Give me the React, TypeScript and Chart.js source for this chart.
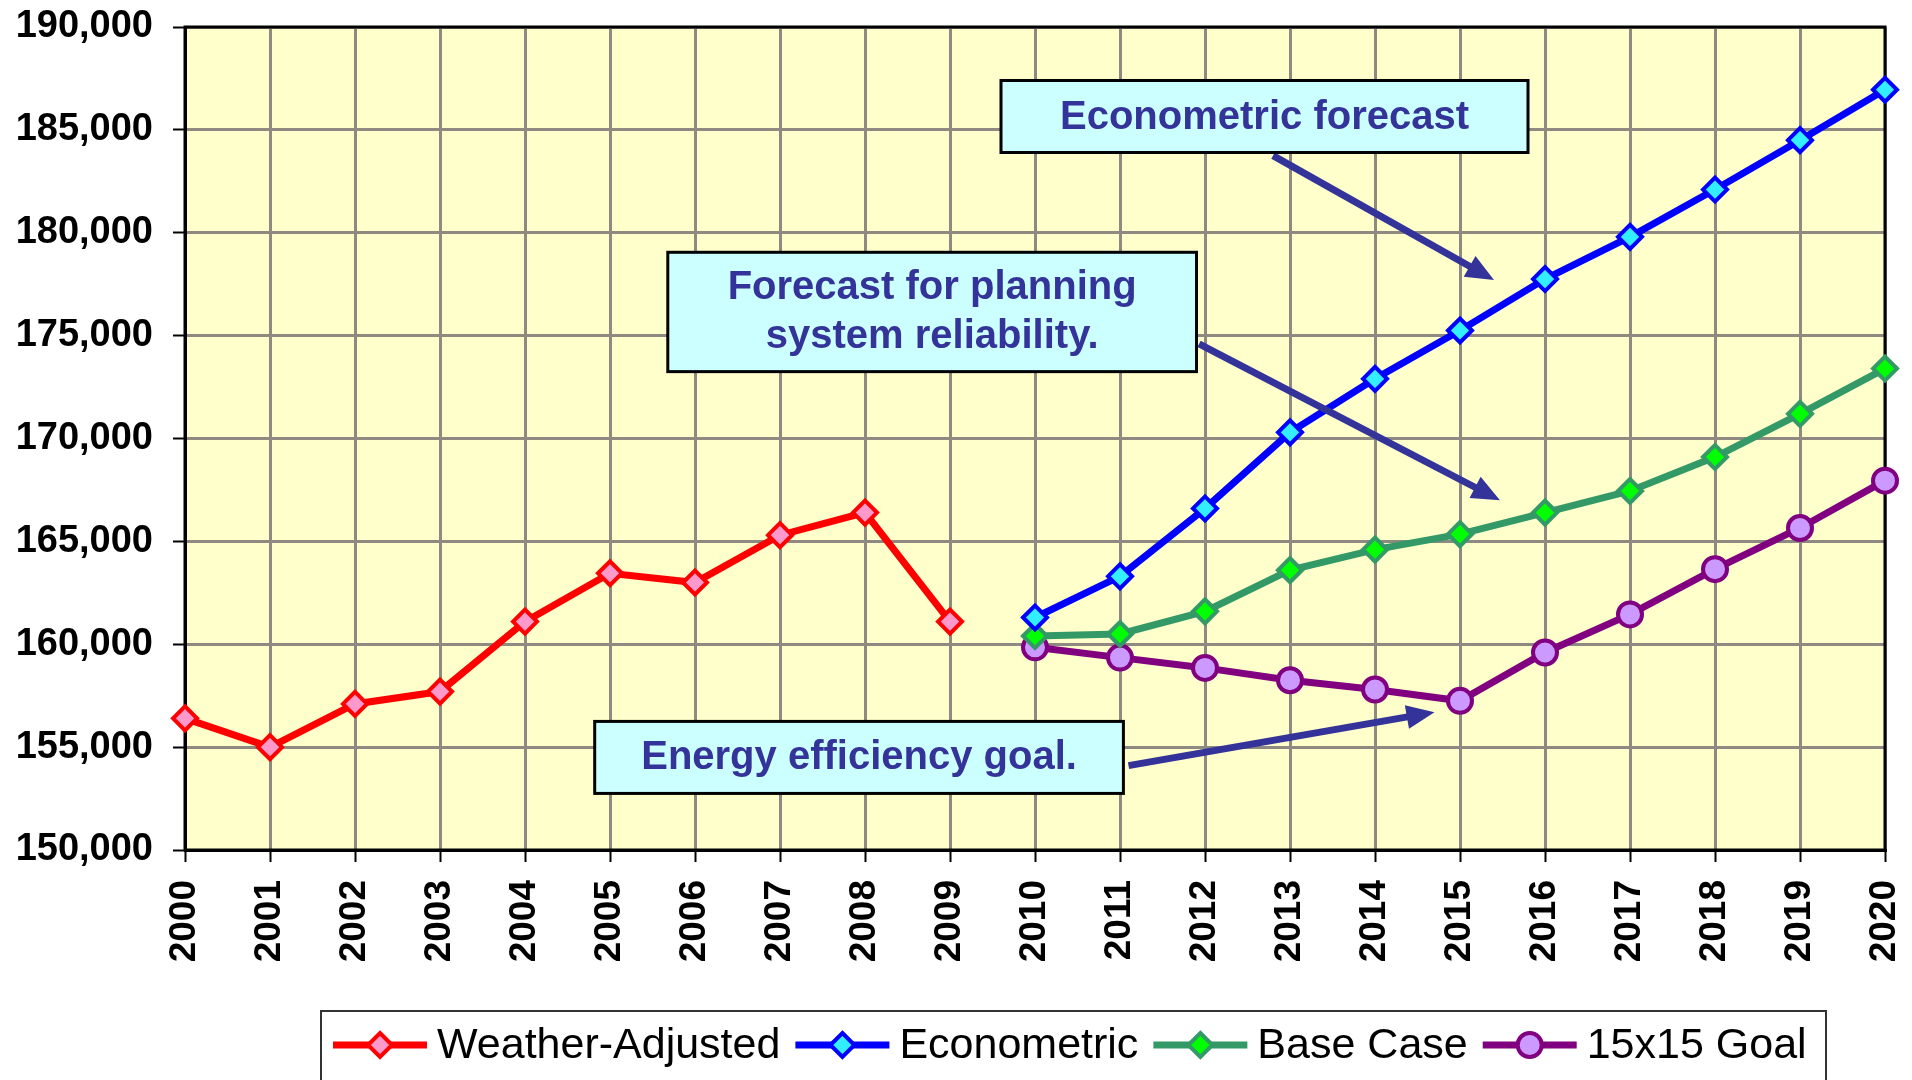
import React, { useEffect, useRef } from "react";
import { Chart, registerables } from "chart.js";

Chart.register(...registerables);

// ---------- data ----------
const years = [
  "2000", "2001", "2002", "2003", "2004", "2005", "2006", "2007", "2008", "2009", "2010",
  "2011", "2012", "2013", "2014", "2015", "2016", "2017", "2018", "2019", "2020",
];
// 2000–2009
const weatherAdjusted = [156400, 155000, 157100, 157700, 161100, 163450, 163000, 165300, 166400, 161100];
// 2010–2020
const econometric = [161300, 163300, 166600, 170300, 172900, 175250, 177750, 179800, 182100, 184500, 186950];
const baseCase = [160400, 160500, 161600, 163600, 164600, 165350, 166400, 167450, 169100, 171200, 173400];
const goal15x15 = [159850, 159350, 158850, 158250, 157800, 157250, 159600, 161450, 163650, 165650, 167950];

const yMin = 150000;
const yMax = 190000;
const yStep = 5000;

const seriesNames = ["Weather-Adjusted", "Econometric", "Base Case", "15x15 Goal"];

// callouts, positioned in chart units (x = year index, y = value)
const calloutBoxes = [
  { lines: ["Econometric forecast"], x0: 9.6, x1: 15.8, yTop: 187400, yBottom: 183900 },
  { lines: ["Forecast for planning", "system reliability."], x0: 5.68, x1: 11.9, yTop: 179050, yBottom: 173250 },
  { lines: ["Energy efficiency goal."], x0: 4.82, x1: 11.04, yTop: 156250, yBottom: 152750 },
];
const calloutArrows = [
  { fx: 12.8, fy: 183750, tx: 15.4, ty: 177700 },
  { fx: 11.93, fy: 174600, tx: 15.47, ty: 167000 },
  { fx: 11.1, fy: 154100, tx: 14.7, ty: 156700 },
];

const FONT = "'Liberation Sans', Arial, sans-serif";

const pad = (n: number) => Array.from({ length: n }, () => null as number | null);

export default function App() {
  const ref = useRef<HTMLCanvasElement | null>(null);

  useEffect(() => {
    document.body.style.margin = "0";
    const canvas = ref.current;
    if (!canvas) return;

    const bgPlugin = {
      id: "plotBg",
      beforeDraw(chart: any) {
        const { ctx, chartArea: a } = chart;
        ctx.save();
        ctx.fillStyle = "#FFFFCC";
        ctx.fillRect(a.left, a.top, a.right - a.left, a.bottom - a.top);
        ctx.restore();
      },
      beforeDatasetsDraw(chart: any) {
        const { ctx, chartArea: a } = chart;
        ctx.save();
        ctx.strokeStyle = "#000";
        ctx.lineWidth = 3;
        ctx.strokeRect(a.left, a.top, a.right - a.left, a.bottom - a.top);
        ctx.restore();
      },
    };

    const calloutPlugin = {
      id: "callouts",
      afterDatasetsDraw(chart: any) {
        const { ctx } = chart;
        const xs = chart.scales.x;
        const ys = chart.scales.y;
        ctx.save();
        ctx.strokeStyle = "#333399";
        ctx.fillStyle = "#333399";
        for (const a of calloutArrows) {
          const x1 = xs.getPixelForValue(a.fx);
          const y1 = ys.getPixelForValue(a.fy);
          const x2 = xs.getPixelForValue(a.tx);
          const y2 = ys.getPixelForValue(a.ty);
          const ang = Math.atan2(y2 - y1, x2 - x1);
          const headLen = 28;
          const headHalf = 12;
          const bx = x2 - headLen * Math.cos(ang);
          const by = y2 - headLen * Math.sin(ang);
          ctx.lineWidth = 7;
          ctx.lineCap = "butt";
          ctx.beginPath();
          ctx.moveTo(x1, y1);
          ctx.lineTo(bx + 2 * Math.cos(ang), by + 2 * Math.sin(ang));
          ctx.stroke();
          ctx.beginPath();
          ctx.moveTo(x2, y2);
          ctx.lineTo(bx + headHalf * Math.sin(ang), by - headHalf * Math.cos(ang));
          ctx.lineTo(bx - headHalf * Math.sin(ang), by + headHalf * Math.cos(ang));
          ctx.closePath();
          ctx.fill();
        }
        for (const b of calloutBoxes) {
          const l = xs.getPixelForValue(b.x0);
          const r = xs.getPixelForValue(b.x1);
          const t = ys.getPixelForValue(b.yTop);
          const bt = ys.getPixelForValue(b.yBottom);
          ctx.fillStyle = "#CCFFFF";
          ctx.fillRect(l, t, r - l, bt - t);
          ctx.strokeStyle = "#000";
          ctx.lineWidth = 3;
          ctx.strokeRect(l, t, r - l, bt - t);
          ctx.fillStyle = "#333399";
          ctx.font = `bold 40px ${FONT}`;
          ctx.textAlign = "center";
          ctx.textBaseline = "middle";
          const cx = (l + r) / 2;
          const cy = (t + bt) / 2;
          const lh = 49;
          const n = b.lines.length;
          b.lines.forEach((s, i) => {
            ctx.fillText(s, cx, cy + (i - (n - 1) / 2) * lh + 1);
          });
        }
        ctx.restore();
      },
    };

    const legendPlugin = {
      id: "customLegend",
      afterDraw(chart: any) {
        const { ctx } = chart;
        ctx.save();
        ctx.strokeStyle = "#333";
        ctx.lineWidth = 2;
        ctx.strokeRect(321, 1011, 1505, 100);
        ctx.font = `43px ${FONT}`;
        ctx.textBaseline = "middle";
        ctx.textAlign = "left";
        let x = 333;
        const cy = 1045;
        chart.data.datasets.forEach((ds: any) => {
          ctx.strokeStyle = ds.borderColor;
          ctx.lineWidth = 7;
          ctx.beginPath();
          ctx.moveTo(x, cy);
          ctx.lineTo(x + 94, cy);
          ctx.stroke();
          const mx = x + 47;
          const r = 12;
          ctx.fillStyle = ds.pointBackgroundColor;
          ctx.strokeStyle = ds.pointBorderColor;
          ctx.lineWidth = 4;
          ctx.beginPath();
          if (ds.pointStyle === "circle") {
            ctx.arc(mx, cy, r, 0, Math.PI * 2);
          } else {
            ctx.moveTo(mx, cy - r);
            ctx.lineTo(mx + r, cy);
            ctx.lineTo(mx, cy + r);
            ctx.lineTo(mx - r, cy);
            ctx.closePath();
          }
          ctx.fill();
          ctx.stroke();
          ctx.fillStyle = "#000";
          ctx.fillText(ds.label, x + 104, cy + 1);
          x += 104 + ctx.measureText(ds.label).width + 15;
        });
        ctx.restore();
      },
    };

    const mk = (label: string, data: (number | null)[], line: string, fill: string, style: string) => ({
      label,
      data,
      borderColor: line,
      backgroundColor: fill,
      pointBackgroundColor: fill,
      pointBorderColor: line,
      pointStyle: style,
      pointRadius: 12,
      pointBorderWidth: 4,
      borderWidth: 7,
      tension: 0,
      spanGaps: false,
    });

    const chart = new Chart(canvas, {
      type: "line",
      data: {
        labels: years,
        datasets: [
          mk(seriesNames[0], [...weatherAdjusted, ...pad(11)], "#FF0000", "#FF99CC", "rectRot"),
          mk(seriesNames[1], [...pad(10), ...econometric], "#0000FF", "#33EEFF", "rectRot"),
          mk(seriesNames[2], [...pad(10), ...baseCase], "#339966", "#00FF00", "rectRot"),
          mk(seriesNames[3], [...pad(10), ...goal15x15], "#800080", "#CC99FF", "circle"),
        ] as any,
      },
      options: {
        responsive: false,
        animation: false,
        events: [],
        layout: { padding: { left: 0, top: 27, right: 27, bottom: 0 } },
        plugins: {
          legend: { display: false },
          tooltip: { enabled: false },
          title: { display: false },
        },
        scales: {
          x: {
            type: "category",
            offset: false,
            afterFit(scale: any) {
              scale.height = 230;
              scale.paddingLeft = 0;
              scale.paddingRight = 0;
            },
            grid: {
              offset: false,
              color: "#8E8A82",
              lineWidth: 3,
              tickColor: "#000",
              tickWidth: 2,
              tickLength: 12,
              drawTicks: true,
            },
            border: { display: true, color: "#000", width: 3 },
            ticks: {
              autoSkip: false,
              minRotation: 90,
              maxRotation: 90,
              padding: 18,
              color: "#000",
              font: { family: FONT, size: 37, weight: "bold" },
            },
          },
          y: {
            type: "linear",
            min: yMin,
            max: yMax,
            afterFit(scale: any) {
              scale.width = 185;
              scale.paddingTop = 0;
              scale.paddingBottom = 0;
            },
            grid: {
              color: "#8E8A82",
              lineWidth: 3,
              tickColor: "#000",
              tickWidth: 2,
              tickLength: 12,
              drawTicks: true,
            },
            border: { display: true, color: "#000", width: 3 },
            ticks: {
              stepSize: yStep,
              padding: 20,
              color: "#000",
              font: { family: FONT, size: 38, weight: "bold" },
              callback: (v: any) => Number(v).toLocaleString("en-US"),
            },
          },
        },
      } as any,
      plugins: [bgPlugin, calloutPlugin, legendPlugin],
    });

    return () => chart.destroy();
  }, []);

  return (
    <div style={{ width: 1912, height: 1080, background: "#fff" }}>
      <canvas ref={ref} width={1912} height={1080} style={{ display: "block" }} />
    </div>
  );
}
